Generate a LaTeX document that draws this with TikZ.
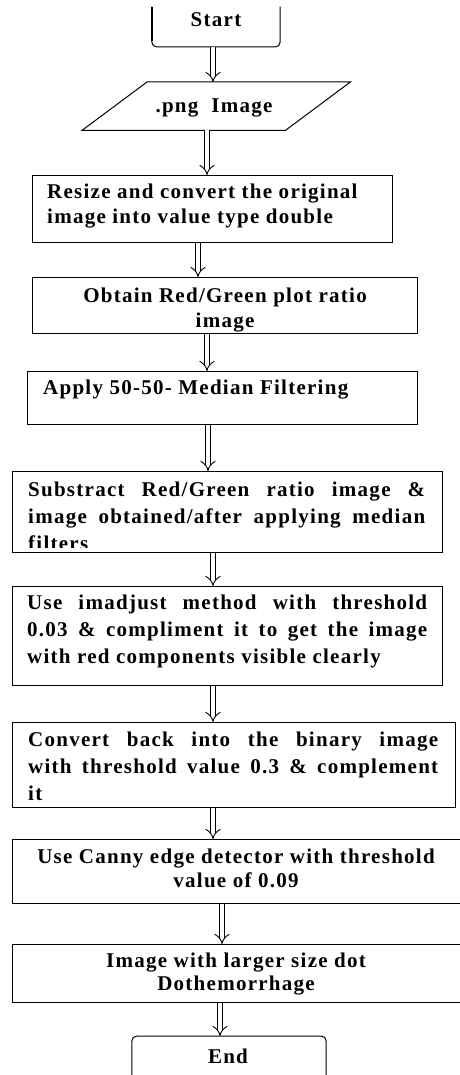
\documentclass[tikz,border=0pt]{standalone}
\usepackage{fontspec}
\setmainfont{Liberation Serif}[LetterSpace=6]
\usetikzlibrary{arrows.meta,calc}
\tikzset{
  boxnode/.style={draw, line width=1pt, rectangle, inner sep=0pt, anchor=north west},
  ghost/.style={inner sep=0pt},
  txt/.style={inner sep=0pt, font=\bfseries\fontsize{21}{27}\selectfont},
  dbl/.style={double, double distance=4.5pt, line width=0.9pt, -{Implies}},
  edge/.style={line width=1pt}
}
\begin{document}
\begin{tikzpicture}[x=1pt,y=-1pt]
\useasboundingbox (0,0) rectangle (459,1075);
% Start terminal (top cropped)
\node[ghost, minimum width=128pt, minimum height=40pt, anchor=south] (start) at (216,47) {};
\draw[edge, rounded corners=5pt] (start.north west) -- (start.south west) -- (start.south east) -- (start.north east);
\draw[line width=2pt] (start.north west) -- ([yshift=6pt]start.south west);
\node[txt, anchor=base] (startt) at (216,27) {Start};
% .png Image parallelogram
\node[ghost, minimum width=268pt, minimum height=48pt, anchor=north west] (png) at (82,82) {};
\draw[edge] ($(png.north west)+(65,0)$) -- (png.north east) -- ($(png.south east)-(65,0)$) -- (png.south west) -- cycle;
\node[txt, anchor=base] (pngt) at (214,113) {.png~ Image};
% Resize
\node[boxnode, minimum width=360pt, minimum height=67pt] (resize) at (32,175) {};
\node[txt, anchor=base west, align=left, font=\bfseries\fontsize{21}{25}\selectfont] (resizet) at (47,224)
  {Resize and convert the original\\image into value type double};
% Obtain
\node[boxnode, minimum width=385pt, minimum height=56pt] (obtain) at (32,277) {};
\node[txt, anchor=base, align=center, font=\bfseries\fontsize{21}{25}\selectfont] (obtaint) at (225,327)
  {Obtain Red/Green plot ratio\\image};
% Apply
\node[boxnode, minimum width=390pt, minimum height=53pt] (apply) at (27,371) {};
\node[txt, anchor=base west] (applyt) at (43,394) {Apply 50-50- Median Filtering};
% Subtract
\node[boxnode, minimum width=430pt, minimum height=81pt] (sub) at (12,471) {};
\begin{scope}
\clip ($(sub.north west)+(1,1)$) rectangle ($(sub.south east)+(-1,-6)$);
\node[txt, anchor=base west, text width=397pt, align=justify] (subt) at (28,496)
  {Substract Red/Green ratio image \&\linebreak image obtained/after applying median\linebreak filters};
\end{scope}
% Imadjust
\node[boxnode, minimum width=430pt, minimum height=99pt] (imadj) at (12,586) {};
\node[txt, anchor=base west, text width=400pt, align=justify] (imadjt) at (27,609)
  {Use imadjust method with threshold\linebreak 0.03 \& compliment it to get the image\linebreak with red components visible clearly};
% Convert
\node[boxnode, minimum width=443pt, minimum height=85pt] (conv) at (12,722) {};
\node[txt, anchor=base west, text width=410pt, align=justify] (convt) at (28,746)
  {Convert back into the binary image\linebreak with threshold value 0.3 \& complement\linebreak it};
% Canny (right edge cropped)
\node[boxnode, minimum width=460pt, minimum height=64pt] (canny) at (12,839) {};
\node[txt, anchor=base, align=center, font=\bfseries\fontsize{21}{24}\selectfont] (cannyt) at (236,887)
  {Use Canny edge detector with threshold\\value of 0.09};
% Image result (right edge cropped)
\node[boxnode, minimum width=460pt, minimum height=58pt] (res) at (12,944) {};
\node[txt, anchor=base, align=center, font=\bfseries\fontsize{21}{23}\selectfont] (rest) at (236,990)
  {Image with larger size dot\\Dothemorrhage};
% End terminal (bottom cropped)
\node[ghost, minimum width=194pt, minimum height=44pt, anchor=north] (end) at (229,1036) {};
\draw[edge, rounded corners=5pt] (end.south west) -- (end.north west) -- (end.north east) -- (end.south east);
\node[txt, anchor=base] (endt) at (228,1063) {End};
% Arrows
\draw[dbl] (start.south -| 213,0) -- (png.north -| 213,0);
\draw[dbl] (png.south -| 207,0) -- (resize.north -| 207,0);
\draw[dbl] (resize.south -| 198,0) -- (obtain.north -| 198,0);
\draw[dbl] (obtain.south -| 207,0) -- (apply.north -| 207,0);
\draw[dbl] (apply.south -| 208,0) -- (sub.north -| 208,0);
\draw[dbl] (sub.south -| 213,0) -- (imadj.north -| 213,0);
\draw[dbl] (imadj.south -| 213,0) -- (conv.north -| 213,0);
\draw[dbl] (conv.south -| 213,0) -- (canny.north -| 213,0);
\draw[dbl] (canny.south -| 222,0) -- (res.north -| 222,0);
\draw[dbl] (res.south -| 220,0) -- (end.north -| 220,0);
\end{tikzpicture}
\end{document}
